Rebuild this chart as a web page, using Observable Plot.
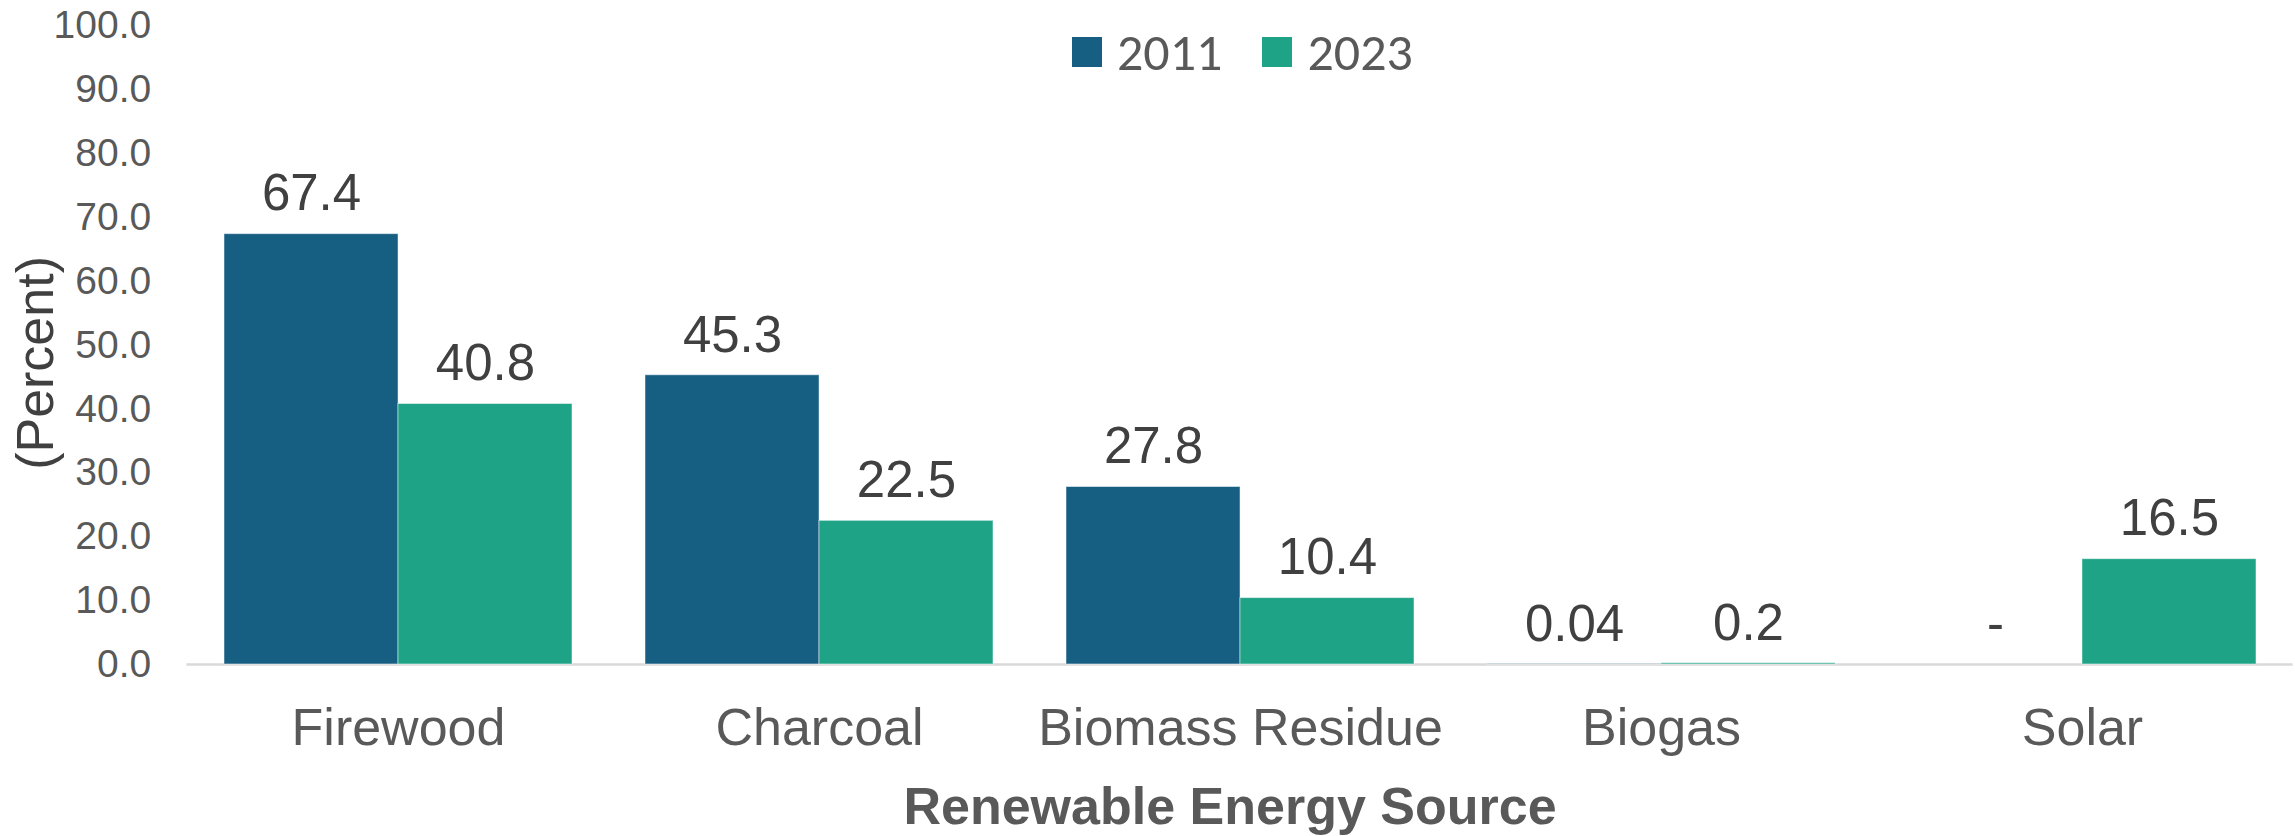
<!DOCTYPE html>
<html>
<head>
<meta charset="utf-8">
<script src="https://cdn.jsdelivr.net/npm/d3@7"></script>
<script src="https://cdn.jsdelivr.net/npm/@observablehq/plot@0.6"></script>
<style>
  html, body { margin: 0; padding: 0; background: #fff; }
  #wrap { position: relative; width: 2295px; height: 836px; overflow: hidden; }
  #legend { position: absolute; left: 1072px; top: 24px; height: 55px; display: flex; align-items: center;
            font-family: Carlito, Lato, "Liberation Sans", sans-serif; font-size: 52px; color: #595959; }
  #legend .item { display: flex; align-items: center; margin-right: 40px; }
  #legend .sw { width: 30px; height: 30px; margin-right: 15px; }
</style>
</head>
<body>
<div id="wrap">
  <div id="chart"></div>
  <div id="legend"></div>
</div>
<script>
const categories = ["Firewood", "Charcoal", "Biomass Residue", "Biogas", "Solar"];
const years = ["2011", "2023"];
const values2011 = [67.4, 45.3, 27.8, 0.04, 0];
const values2023 = [40.8, 22.5, 10.4, 0.2, 16.5];
const yTicks = [0, 10, 20, 30, 40, 50, 60, 70, 80, 90, 100];
const colors = ["#175e83", "#1fa386"];
const yLabel = "(Percent)";
const xLabel = "Renewable Energy Source";

const data = categories.flatMap((c, i) => [
  {category: c, year: years[0], value: values2011[i]},
  {category: c, year: years[1], value: values2023[i]}
]);
const d2011 = data.filter(d => d.year === years[0]);
const d2023 = data.filter(d => d.year === years[1]);

const W = 2295, H = 836;
const mL = 186.4, mR = 2.4, mT = 25.5, mB = 172;
const pIn = 0.174, pOut = pIn / 2;
const step = (W - mL - mR) / (categories.length - pIn + 2 * pOut);
const bw = step * (1 - pIn);

const fmt = v => v === 0 ? "-" : String(v);

const chart = Plot.plot({
  width: W,
  height: H,
  marginLeft: mL,
  marginRight: mR,
  marginTop: mT,
  marginBottom: mB,
  style: {fontFamily: "'Liberation Sans', Arial, sans-serif", background: "white"},
  x: {type: "band", domain: categories, paddingInner: pIn, paddingOuter: pOut, label: null},
  y: {domain: [0, 100], label: null},
  color: {domain: years, range: colors},
  marks: [
    Plot.axisY({ticks: yTicks, tickSize: 0, tickPadding: 35.7, tickFormat: d3.format(".1f"),
                fontSize: 39, color: "#595959", label: null}),
    Plot.axisX({tickSize: 0, tickPadding: 44, fontSize: 52, color: "#595959", label: null}),
    Plot.ruleY([0], {stroke: "#d9d9d9", strokeWidth: 2.5}),
    Plot.barY(d2011, {x: "category", y: "value", fill: "year", insetRight: bw / 2,
                      stroke: "white", strokeOpacity: 0.5, strokeWidth: 1}),
    Plot.barY(d2023, {x: "category", y: "value", fill: "year", insetLeft: bw / 2,
                      stroke: "white", strokeOpacity: 0.5, strokeWidth: 1}),
    Plot.text(d2011, {x: "category", y: "value", text: d => fmt(d.value), dx: -bw / 4, dy: -40,
                      fontSize: 51, fill: "#404040"}),
    Plot.text(d2023, {x: "category", y: "value", text: d => fmt(d.value), dx: bw / 4, dy: -40,
                      fontSize: 51, fill: "#404040"}),
    Plot.text([yLabel], {frameAnchor: "left", text: d => d, rotate: -90, textAnchor: "middle",
                         lineAnchor: "middle", dx: -150.4, dy: 17.7, fontSize: 52, fill: "#404040"}),
    Plot.text([xLabel], {frameAnchor: "bottom", text: d => d, textAnchor: "middle", lineAnchor: "middle",
                         dx: -10, dy: 142.5, fontSize: 52, fontWeight: "bold", fill: "#595959"})
  ]
});
document.getElementById("chart").appendChild(chart);

const legend = document.getElementById("legend");
years.forEach((y, i) => {
  const item = document.createElement("div");
  item.className = "item";
  const sw = document.createElement("div");
  sw.className = "sw";
  sw.style.background = colors[i];
  const t = document.createElement("span");
  t.textContent = y;
  item.appendChild(sw);
  item.appendChild(t);
  legend.appendChild(item);
});
</script>
</body>
</html>
